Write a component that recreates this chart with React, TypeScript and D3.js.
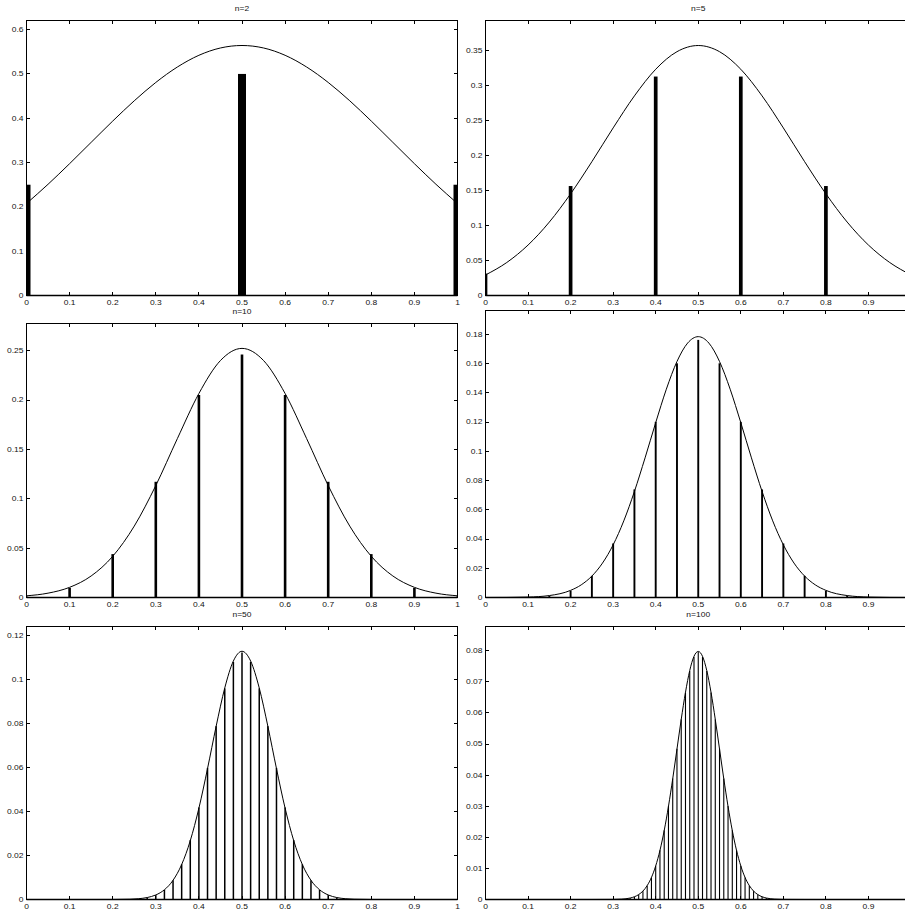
import React from "react";
import * as d3 from "d3";

const W = 905;
const H = 911;

// Binomial probabilities P(k) for p = 0.5; the first entry is k = kFirst.
const trials = [2, 5, 10, 20, 50, 100];
const kFirst = [0, 0, 0, 0, 9, 30];

const probs2 = [0.25, 0.5, 0.25];
const probs5 = [0.03125, 0.15625, 0.3125, 0.3125, 0.15625, 0.03125];
const probs10 = [
  0.00098, 0.00977, 0.04395, 0.11719, 0.20508, 0.24609, 0.20508, 0.11719, 0.04395, 0.00977, 0.00098,
];
const probs20 = [
  0.000001, 0.000019, 0.000181, 0.001087, 0.004621, 0.014786, 0.036964, 0.073929, 0.120134, 0.160179,
  0.176197, 0.160179, 0.120134, 0.073929, 0.036964, 0.014786, 0.004621, 0.001087, 0.000181, 0.000019,
  0.000001,
];
const probs50 = [
  0.000002, 0.000009, 0.000033, 0.000108, 0.000315, 0.000833, 0.001999, 0.004373, 0.008746, 0.016035,
  0.027006, 0.04186, 0.0598, 0.078826, 0.095962, 0.107957, 0.112275, 0.107957, 0.095962, 0.078826,
  0.0598, 0.04186, 0.027006, 0.016035, 0.008746, 0.004373, 0.001999, 0.000833, 0.000315, 0.000108,
  0.000033, 0.000009, 0.000002,
];
const probs100 = [
  0.000023, 0.000052, 0.000113, 0.000232, 0.000458, 0.000864, 0.00156, 0.002698, 0.004473, 0.007111,
  0.010844, 0.015869, 0.022292, 0.030069, 0.038953, 0.048474, 0.057958, 0.06659, 0.073527, 0.078029,
  0.079589, 0.078029, 0.073527, 0.06659, 0.057958, 0.048474, 0.038953, 0.030069, 0.022292, 0.015869,
  0.010844, 0.007111, 0.004473, 0.002698, 0.00156, 0.000864, 0.000458, 0.000232, 0.000113, 0.000052,
  0.000023,
];

// Normal approximation curves (proportion on x, density per outcome on y).
const curveX2 = [0, 0.05, 0.1, 0.15, 0.2, 0.25, 0.3, 0.35, 0.4, 0.45, 0.5, 0.55, 0.6, 0.65, 0.7, 0.75, 0.8, 0.85, 0.9, 0.95, 1];
const curveY2 = [
  0.2076, 0.251, 0.2975, 0.3456, 0.3936, 0.4394, 0.4808, 0.5156, 0.5421, 0.5586, 0.5642, 0.5586, 0.5421,
  0.5156, 0.4808, 0.4394, 0.3936, 0.3456, 0.2975, 0.251, 0.2076,
];
const curveX5 = curveX2;
const curveY5 = [
  0.0293, 0.0471, 0.072, 0.1048, 0.1451, 0.191, 0.2392, 0.2849, 0.3229, 0.348, 0.3568, 0.348, 0.3229,
  0.2849, 0.2392, 0.191, 0.1451, 0.1048, 0.072, 0.0471, 0.0293,
];
const curveX10 = curveX2;
const curveY10 = [
  0.0017, 0.0044, 0.0103, 0.0218, 0.0417, 0.0723, 0.1134, 0.1609, 0.2066, 0.24, 0.2523, 0.24, 0.2066,
  0.1609, 0.1134, 0.0723, 0.0417, 0.0218, 0.0103, 0.0044, 0.0017,
];
const curveX20 = [
  0, 0.05, 0.1, 0.15, 0.2, 0.225, 0.25, 0.275, 0.3, 0.325, 0.35, 0.375, 0.4, 0.425, 0.45, 0.475, 0.5,
  0.525, 0.55, 0.575, 0.6, 0.625, 0.65, 0.675, 0.7, 0.725, 0.75, 0.775, 0.8, 0.85, 0.9, 0.95, 1,
];
const curveY20 = [
  0.0000081, 0.0000542, 0.0002964, 0.0013285, 0.004875, 0.008663, 0.014645, 0.02355, 0.03602, 0.05241,
  0.07254, 0.0955, 0.11959, 0.14246, 0.16143, 0.17401, 0.17841, 0.17401, 0.16143, 0.14246, 0.11959,
  0.0955, 0.07254, 0.05241, 0.03602, 0.02355, 0.014645, 0.008663, 0.004875, 0.0013285, 0.0002964,
  0.0000542, 0.0000081,
];
const curveX50 = [
  0, 0.1, 0.15, 0.2, 0.24, 0.26, 0.28, 0.3, 0.32, 0.34, 0.36, 0.38, 0.4, 0.42, 0.44, 0.46, 0.48, 0.5,
  0.52, 0.54, 0.56, 0.58, 0.6, 0.62, 0.64, 0.66, 0.68, 0.7, 0.72, 0.74, 0.76, 0.8, 0.85, 0.9, 1,
];
const curveY50 = [
  0, 0, 0.0000005, 0.0000139, 0.0001308, 0.0003556, 0.000892, 0.002067, 0.004419, 0.008723, 0.015895,
  0.02674, 0.04151, 0.0595, 0.07873, 0.09616, 0.10842, 0.11284, 0.10842, 0.09616, 0.07873, 0.0595,
  0.04151, 0.02674, 0.015895, 0.008723, 0.004419, 0.002067, 0.000892, 0.0003556, 0.0001308, 0.0000139,
  0.0000005, 0, 0,
];
const curveX100 = [
  0, 0.2, 0.25, 0.3, 0.32, 0.34, 0.35, 0.36, 0.37, 0.38, 0.39, 0.4, 0.41, 0.42, 0.43, 0.44, 0.45, 0.46,
  0.47, 0.48, 0.49, 0.5, 0.51, 0.52, 0.53, 0.54, 0.55, 0.56, 0.57, 0.58, 0.59, 0.6, 0.61, 0.62, 0.63,
  0.64, 0.65, 0.66, 0.68, 0.7, 0.75, 0.8, 1,
];
const curveY100 = [
  0, 0, 0.0000003, 0.0000268, 0.0001224, 0.000477, 0.000886, 0.001583, 0.002717, 0.004479, 0.007095,
  0.010798, 0.01579, 0.022184, 0.029945, 0.038837, 0.048394, 0.057938, 0.066645, 0.073654, 0.078209,
  0.079788, 0.078209, 0.073654, 0.066645, 0.057938, 0.048394, 0.038837, 0.029945, 0.022184, 0.01579,
  0.010798, 0.007095, 0.004479, 0.002717, 0.001583, 0.000886, 0.000477, 0.0001224, 0.0000268,
  0.0000003, 0, 0,
];

// Axis limits and tick values
const yLimits = [0.6206, 0.3925, 0.2775, 0.1963, 0.1241, 0.0878];
const xTicks = [0, 0.1, 0.2, 0.3, 0.4, 0.5, 0.6, 0.7, 0.8, 0.9, 1];
const yTicks2 = [0, 0.1, 0.2, 0.3, 0.4, 0.5, 0.6];
const yTicks5 = [0, 0.05, 0.1, 0.15, 0.2, 0.25, 0.3, 0.35];
const yTicks10 = [0, 0.05, 0.1, 0.15, 0.2, 0.25];
const yTicks20 = [0, 0.02, 0.04, 0.06, 0.08, 0.1, 0.12, 0.14, 0.16, 0.18];
const yTicks50 = [0, 0.02, 0.04, 0.06, 0.08, 0.1, 0.12];
const yTicks100 = [0, 0.01, 0.02, 0.03, 0.04, 0.05, 0.06, 0.07, 0.08];
const titles = ["n=2", "n=5", "n=10", "", "n=50", "n=100"];

// Panel boxes in pixels: [left, top, right, bottom]
const boxes = [
  [26.5, 20.5, 457.5, 295.5],
  [485.5, 20.5, 911, 295.5],
  [26.5, 323.5, 457.5, 597.5],
  [485.5, 310.5, 911, 597.5],
  [26.5, 626.5, 457.5, 899.5],
  [485.5, 626.5, 911, 899.5],
];
const barWidths = [8, 3.7, 2.6, 1.9, 1.5, 1.1];

const panels = [
  { probs: probs2, cx: curveX2, cy: curveY2, yTicks: yTicks2 },
  { probs: probs5, cx: curveX5, cy: curveY5, yTicks: yTicks5 },
  { probs: probs10, cx: curveX10, cy: curveY10, yTicks: yTicks10 },
  { probs: probs20, cx: curveX20, cy: curveY20, yTicks: yTicks20 },
  { probs: probs50, cx: curveX50, cy: curveY50, yTicks: yTicks50 },
  { probs: probs100, cx: curveX100, cy: curveY100, yTicks: yTicks100 },
].map((p, i) => ({
  ...p,
  n: trials[i],
  k0: kFirst[i],
  yMax: yLimits[i],
  title: titles[i],
  box: boxes[i],
  barW: barWidths[i],
}));

const FONT = "'Liberation Sans', Arial, Helvetica, sans-serif";
const fmt = d3.format("~g");
const TICK = 3.5;

function Label({ x, y, anchor, text, size = 8.5 }: { x: number; y: number; anchor: string; text: string; size?: number }) {
  return (
    <text
      transform={`translate(${x},${y}) scale(1,0.8)`}
      textAnchor={anchor}
      fontFamily={FONT}
      fontSize={size}
      fill="#111"
    >
      {text}
    </text>
  );
}

function Panel({ cfg, idx }: { cfg: any; idx: number }) {
  const [left, top, right, bottom] = cfg.box;
  const x = d3.scaleLinear().domain([0, 1]).range([left, right]);
  const y = d3.scaleLinear().domain([0, cfg.yMax]).range([bottom, top]);
  const pts: [number, number][] = cfg.cx.map((v: number, i: number) => [v, cfg.cy[i]]);
  const line = d3
    .line<[number, number]>()
    .x((d) => x(d[0]))
    .y((d) => y(d[1]))
    .curve(d3.curveMonotoneX);
  const clipId = `clip-${idx}`;
  // tick labels that would fall past the page edge are not drawn
  const xLabelTicks = xTicks.filter((t) => x(t) + 4 <= W);
  return (
    <g>
      <defs>
        <clipPath id={clipId}>
          <rect x={left} y={top} width={right - left} height={bottom - top} />
        </clipPath>
      </defs>
      <g clipPath={`url(#${clipId})`}>
        {cfg.probs.map((p: number, i: number) => {
          const xc = x((cfg.k0 + i) / cfg.n);
          return (
            <rect
              key={i}
              x={xc - cfg.barW / 2}
              y={y(p)}
              width={cfg.barW}
              height={y(0) - y(p)}
              fill="#000"
            />
          );
        })}
        <path d={line(pts) || ""} fill="none" stroke="#000" strokeWidth={1} />
      </g>
      <rect
        x={left}
        y={top}
        width={right - left}
        height={bottom - top}
        fill="none"
        stroke="#000"
        strokeWidth={1}
        shapeRendering="crispEdges"
      />
      <line x1={left} x2={right} y1={bottom} y2={bottom} stroke="#000" strokeWidth={1.6} />
      {xTicks.map((t) => (
        <g key={`xt${t}`} shapeRendering="crispEdges">
          <line x1={x(t)} x2={x(t)} y1={bottom} y2={bottom - TICK} stroke="#000" />
          <line x1={x(t)} x2={x(t)} y1={top} y2={top + TICK} stroke="#000" />
        </g>
      ))}
      {cfg.yTicks.map((t: number) => (
        <g key={`yt${t}`} shapeRendering="crispEdges">
          <line x1={left} x2={left + TICK} y1={y(t)} y2={y(t)} stroke="#000" />
          <line x1={right} x2={right - TICK} y1={y(t)} y2={y(t)} stroke="#000" />
        </g>
      ))}
      {xLabelTicks.map((t) => (
        <Label key={`xl${t}`} x={x(t)} y={bottom + 9.5} anchor="middle" text={fmt(t)} />
      ))}
      {cfg.yTicks.map((t: number) => (
        <Label key={`yl${t}`} x={left - 3} y={y(t) + 2.4} anchor="end" text={fmt(t)} />
      ))}
      {cfg.title ? <Label x={(left + right) / 2} y={top - 9.5} anchor="middle" text={cfg.title} /> : null}
    </g>
  );
}

export default function App() {
  return (
    <svg
      width={W}
      height={H}
      viewBox={`0 0 ${W} ${H}`}
      style={{ position: "absolute", left: 0, top: 0, background: "#fff" }}
    >
      <rect x={0} y={0} width={W} height={H} fill="#fff" />
      {panels.map((cfg, i) => (
        <Panel key={i} cfg={cfg} idx={i} />
      ))}
    </svg>
  );
}
